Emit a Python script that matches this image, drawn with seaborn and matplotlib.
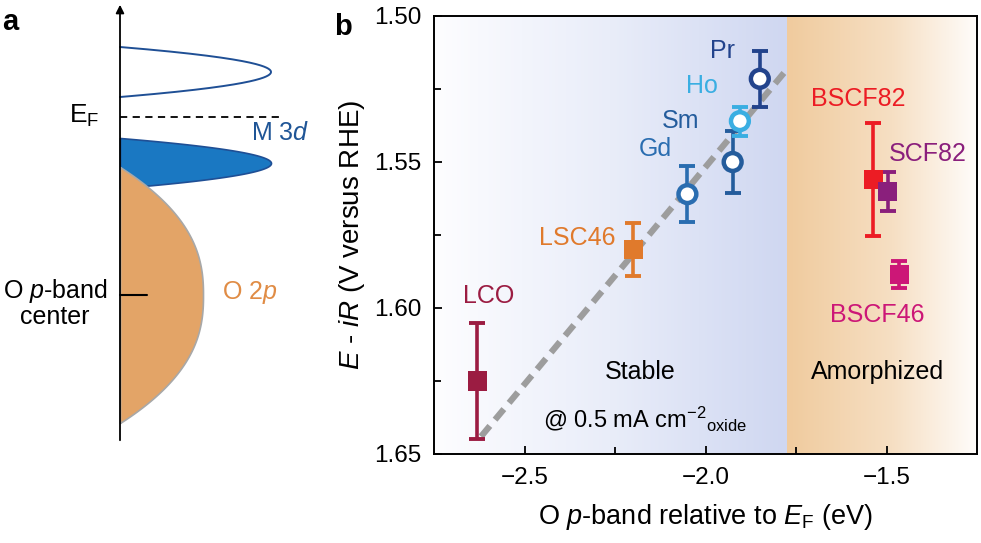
import numpy as np
import pandas as pd
import matplotlib
matplotlib.use("Agg")
import matplotlib.pyplot as plt
import seaborn as sns
from matplotlib.colors import LinearSegmentedColormap

# ---- panel b data ----
names = ["LCO", "LSC46", "Gd", "Sm", "Ho", "Pr", "BSCF82", "SCF82", "BSCF46"]
o_pband = [-2.63, -2.20, -2.05, -1.925, -1.905, -1.85, -1.537, -1.497, -1.465]
potential = [1.625, 1.580, 1.561, 1.550, 1.536, 1.5215, 1.556, 1.560, 1.5885]
err = [0.020, 0.009, 0.0095, 0.0105, 0.005, 0.0095, 0.0195, 0.0067, 0.0047]
marker_kind = ["s", "s", "o", "o", "o", "o", "s", "s", "s"]
colors = ["#9b1c42", "#e07a2c", "#2a6db0", "#245c9c", "#3aaee2", "#22438c",
          "#ec1c24", "#8a1f7c", "#cc1777"]
label_x = [-2.60, -2.355, -2.139, -2.07, -2.01, -1.952, -1.579, -1.385, -1.526]
label_y = [1.596, 1.576, 1.5457, 1.536, 1.524, 1.512, 1.5285, 1.5474, 1.6023]

trend_x = [-2.62, -1.78]
trend_y = [1.644, 1.519]
boundary = -1.775

# ---- panel a schematic (pixel space of the left panel) ----
axis_x = 120
band_names = ["empty 3d", "filled 3d", "O 2p"]
band_center = [72, 163, 295]
band_half = [25, 25, 128]
band_width = [151, 151, 83]
band_power = [2.0, 2.0, 2.4]
ef_y = 117

df = pd.DataFrame({"name": names, "x": o_pband, "y": potential, "err": err,
                   "m": marker_kind})

sns.set_theme(style="ticks")
plt.rcParams["font.family"] = ["Liberation Sans", "DejaVu Sans"]
plt.rcParams["mathtext.fontset"] = "custom"
plt.rcParams["mathtext.rm"] = "Liberation Sans"
plt.rcParams["mathtext.it"] = "Liberation Sans:italic"
plt.rcParams["mathtext.bf"] = "Liberation Sans:bold"
for k in ["text.color", "axes.labelcolor", "xtick.color", "ytick.color", "axes.edgecolor"]:
    plt.rcParams[k] = "black"

fig = plt.figure(figsize=(9.81, 5.43), dpi=100)

# ================= panel a =================
axa = fig.add_axes([0, 0, 330 / 981, 1])
axa.set_xlim(0, 330)
axa.set_ylim(543, 0)
axa.axis("off")

def band(i):
    yy = np.linspace(band_center[i] - band_half[i], band_center[i] + band_half[i], 300)
    t = np.abs((yy - band_center[i]) / band_half[i])
    xx = axis_x + band_width[i] * (1 - t ** band_power[i])
    return xx, yy

xx, yy = band(0)
axa.plot(xx, yy, color="#1f4f95", lw=1.4)
xx, yy = band(1)
axa.fill_betweenx(yy, axis_x, xx, color="#1a78c2", edgecolor="#1f4f95", lw=1.2)
xx, yy = band(2)
axa.fill_betweenx(yy, axis_x, xx, color="#e3a467", edgecolor="#a8a8a8", lw=1.2, zorder=3)

axa.annotate("", xy=(axis_x, 2), xytext=(axis_x, 443),
             arrowprops=dict(arrowstyle="-|>", color="black", lw=1.3, mutation_scale=12),
             zorder=5)
axa.plot([axis_x, 284], [ef_y, ef_y], color="black", lw=1.3, ls=(0, (4, 3)))
axa.plot([axis_x, 147], [band_center[2], band_center[2]], color="black", lw=1.5, zorder=4)

axa.text(84, ef_y - 1, r"E$_\mathrm{F}$", fontsize=19, ha="center", va="center")
axa.text(280, 133, r"M 3$\it{d}$", fontsize=18, color="#1f5596", ha="center", va="center")
axa.text(250, 293, r"O 2$\it{p}$", fontsize=18, color="#e08c45", ha="center", va="center")
axa.text(55, 303, "O $\\it{p}$-band\ncenter", fontsize=18, ha="center", va="center",
         linespacing=1.0)
axa.text(2, 22, "a", fontsize=21, fontweight="bold", ha="left", va="center")

# ================= panel b =================
ax = fig.add_axes([434 / 981, 89 / 543, 543 / 981, 438 / 543])
xmin, xmax = -2.75, -1.25
ymin, ymax = 1.65, 1.50

blue_cmap = LinearSegmentedColormap.from_list(
    "st", [(0, "#fdfdff"), (0.5, "#e9edf9"), (1, "#cfd7f1")])
orange_cmap = LinearSegmentedColormap.from_list(
    "am", [(0, "#f0cb9e"), (0.55, "#f6dfc3"), (1, "#fffdfb")])
grad = np.linspace(0, 1, 256).reshape(1, -1)
ax.imshow(grad, cmap=blue_cmap, aspect="auto", extent=[xmin, boundary, ymin, ymax],
          zorder=0)
ax.imshow(grad, cmap=orange_cmap, aspect="auto", extent=[boundary, xmax, ymin, ymax],
          zorder=0)

sns.lineplot(x=trend_x, y=trend_y, ax=ax, color="#9d9d9d", lw=4.5,
             linestyle=(0, (2.2, 1.3)), zorder=2)

for i, row in df.iterrows():
    ax.errorbar(row.x, row.y, yerr=row.err, color=colors[i], lw=2.6, capsize=5.5,
                capthick=2.8, fmt="none", zorder=3)

circ = df[df.m == "o"]
sq = df[df.m == "s"]
sns.scatterplot(data=circ, x="x", y="y", ax=ax, marker="o", s=165,
                facecolor="white", edgecolor=[colors[i] for i in circ.index],
                linewidth=3.2, zorder=4, legend=False)
sns.scatterplot(data=sq, x="x", y="y", ax=ax, marker="s", s=190,
                color=[colors[i] for i in sq.index], edgecolor="none",
                zorder=4, legend=False)

for i, n in enumerate(names):
    ax.text(label_x[i], label_y[i], n, color=colors[i], fontsize=18,
            ha="center", va="center")

ax.text(-2.181, 1.6219, "Stable", fontsize=18, ha="center", va="center")
ax.text(-1.526, 1.6219, "Amorphized", fontsize=18, ha="center", va="center")
ax.text(-2.167, 1.6377, r"@ 0.5 mA cm$^{\mathrm{-2}}$$_{\mathrm{oxide}}$", fontsize=17,
        ha="center", va="center")

ax.set_xlim(xmin, xmax)
ax.set_ylim(ymin, ymax)
ax.set_xticks([-2.5, -2.0, -1.5])
ax.set_xticks([-2.25, -1.75], minor=True)
ax.set_yticks([1.50, 1.55, 1.60, 1.65])
ax.set_yticks([1.525, 1.575, 1.625], minor=True)
ax.set_yticklabels(["1.50", "1.55", "1.60", "1.65"])
ax.set_xticklabels(["\u22122.5", "\u22122.0", "\u22121.5"])
ax.tick_params(axis="both", which="both", direction="in", labelsize=17.5,
               top=False, right=False, width=1.3)
ax.tick_params(which="major", length=6)
ax.tick_params(which="minor", length=5)
ax.tick_params(axis="x", pad=9)
ax.tick_params(axis="y", pad=9)
for s in ax.spines.values():
    s.set_linewidth(1.4)

ax.set_xlabel(r"O $\it{p}$-band relative to $\it{E}_\mathrm{F}$ (eV)", fontsize=19.5,
              labelpad=10)
ax.set_ylabel(r"$\it{E}$ - $\it{iR}$ (V versus RHE)", fontsize=20, labelpad=5)

fig.text(343 / 981, 1 - 27 / 543, "b", fontsize=21, fontweight="bold",
         ha="center", va="center")

fig.savefig("out.png", dpi=100)
